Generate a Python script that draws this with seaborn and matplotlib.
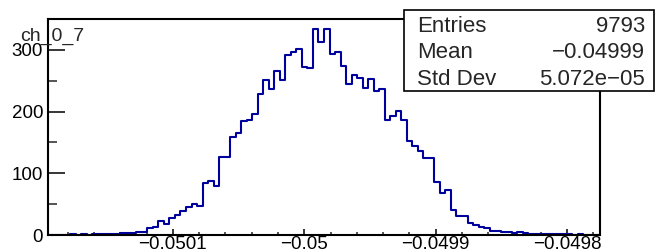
import numpy as np
import pandas as pd
import matplotlib
matplotlib.use("Agg")
import matplotlib.pyplot as plt
from matplotlib.patches import Rectangle
from matplotlib.ticker import MultipleLocator, FixedLocator, FixedFormatter
import seaborn as sns

# histogram content (100 bins)
hist_name = "ch_0_7"
counts = [0, 0, 0, 0, 1, 0, 1, 0,
          1, 1, 1, 2, 2, 3, 3, 4, 5, 5,
          11, 13, 22, 18, 27, 32, 39, 45, 50, 47,
          85, 87, 79, 126, 126, 158, 166, 184, 186, 196,
          228, 251, 237, 266, 251, 291, 296, 301, 273, 270,
          333, 312, 333, 293, 296, 274, 244, 260, 255, 238,
          252, 233, 236, 187, 193, 201, 187, 153, 145, 136,
          124, 124, 86, 68, 73, 40, 30, 30, 20, 17,
          13, 11, 7, 7, 5, 5, 4, 5, 3, 2,
          2, 1, 2, 1, 2, 2, 1, 0, 1, 0, 0, 0]
x_low, x_high = -0.050195, -0.049775
x_ticks = [-0.0501, -0.05, -0.0499, -0.0498]
x_tick_labels = ["\u22120.0501", "\u22120.05", "\u22120.0499", "\u22120.0498"]
y_ticks = [0, 100, 200, 300]
stat_names = ["Entries", "Mean", "Std Dev"]
stat_values = ["9793", "\u22120.04999", "5.072e\u221205"]

sns.set_style("ticks")
plt.rcParams["font.family"] = ["Liberation Sans", "DejaVu Sans"]

edges = np.linspace(x_low, x_high, len(counts) + 1)
df = pd.DataFrame({"x": 0.5 * (edges[:-1] + edges[1:]), "n": counts})

W, H = 656, 252
fig = plt.figure(figsize=(W / 100, H / 100), dpi=100)
ax = fig.add_axes([48 / W, 17 / H, 552 / W, 216 / H])

sns.histplot(data=df, x="x", weights="n", bins=len(counts),
             binrange=(x_low, x_high), element="step",
             fill=False, color="#00009c", linewidth=1.5, ax=ax)

ax.set_xlim(x_low, x_high)
ax.set_ylim(0, 350)
ax.set_xlabel("")
ax.set_ylabel("")

ax.xaxis.set_major_locator(FixedLocator(x_ticks))
ax.xaxis.set_major_formatter(FixedFormatter(x_tick_labels))
ax.xaxis.set_minor_locator(MultipleLocator(2e-5))
ax.yaxis.set_major_locator(FixedLocator(y_ticks))
ax.yaxis.set_minor_locator(MultipleLocator(50))

for s in ax.spines.values():
    s.set_linewidth(1.5)
    s.set_color("black")

ax.tick_params(axis="y", which="major", direction="in", length=12, width=1.1,
               labelsize=13.5, pad=3.5, colors="black")
ax.tick_params(axis="y", which="minor", direction="in", length=6.5, width=1.1)
ax.tick_params(axis="x", which="major", direction="in", length=4.5, width=1.1,
               labelsize=13.5, pad=1, colors="black")
ax.tick_params(axis="x", which="minor", direction="in", length=2.2, width=1.1)

fig.text(20 / W, 1 - 40.7 / H, hist_name, fontsize=14, va="baseline")

# stats box
fig.patches.append(Rectangle((404 / W, 1 - 91 / H), 250 / W, 81 / H,
                             transform=fig.transFigure, facecolor="white",
                             edgecolor="black", linewidth=1.2, zorder=10))
baselines = [32.3, 58.3, 85.3]
for name, val, yb in zip(stat_names, stat_values, baselines):
    fig.text(417 / W, 1 - yb / H, name, fontsize=16, va="baseline",
             ha="left", zorder=11)
    fig.text(645 / W, 1 - yb / H, val, fontsize=16, va="baseline",
             ha="right", zorder=11)

fig.savefig("out.png", dpi=100)
